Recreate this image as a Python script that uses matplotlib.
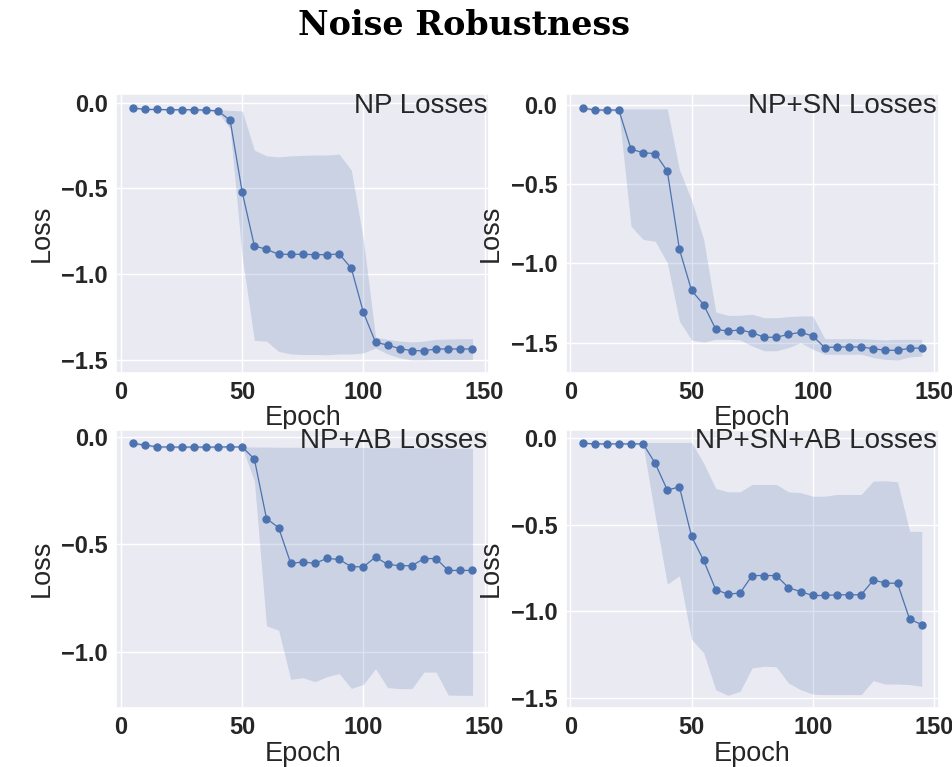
import matplotlib
matplotlib.use("Agg")
import matplotlib.pyplot as plt
from matplotlib.ticker import MultipleLocator
import seaborn as sns

epochs = [5, 10, 15, 20, 25, 30, 35, 40, 45, 50, 55, 60, 65, 70, 75,
          80, 85, 90, 95, 100, 105, 110, 115, 120, 125, 130, 135, 140, 145]

# NP losses
np_mean = [-0.031, -0.039, -0.039, -0.041, -0.041, -0.041, -0.043, -0.048, -0.103, -0.523,
           -0.835, -0.855, -0.884, -0.884, -0.884, -0.886, -0.886, -0.882, -0.965, -1.223,
           -1.397, -1.413, -1.434, -1.446, -1.446, -1.436, -1.436, -1.436, -1.436]
np_hi = [-0.025, -0.033, -0.033, -0.035, -0.035, -0.035, -0.037, -0.040, -0.045, -0.048,
         -0.277, -0.310, -0.316, -0.310, -0.307, -0.305, -0.305, -0.300, -0.393, -0.800,
         -1.366, -1.380, -1.390, -1.395, -1.390, -1.380, -1.378, -1.376, -1.376]
np_lo = [-0.037, -0.045, -0.045, -0.047, -0.047, -0.047, -0.049, -0.056, -0.151, -0.900,
         -1.386, -1.390, -1.450, -1.465, -1.468, -1.468, -1.470, -1.465, -1.465, -1.459,
         -1.430, -1.465, -1.488, -1.500, -1.500, -1.498, -1.498, -1.498, -1.498]

# NP+SN losses
sn_mean = [-0.021, -0.034, -0.034, -0.034, -0.279, -0.304, -0.308, -0.419, -0.912, -1.170,
           -1.260, -1.415, -1.426, -1.419, -1.436, -1.465, -1.465, -1.447, -1.434, -1.457,
           -1.530, -1.526, -1.526, -1.526, -1.537, -1.547, -1.547, -1.535, -1.532]
sn_hi = [-0.015, -0.028, -0.028, -0.027, -0.027, -0.027, -0.027, -0.027, -0.410, -0.600,
         -0.850, -1.306, -1.327, -1.327, -1.320, -1.342, -1.342, -1.335, -1.331, -1.331,
         -1.474, -1.474, -1.474, -1.474, -1.478, -1.482, -1.478, -1.478, -1.478]
sn_lo = [-0.027, -0.040, -0.040, -0.041, -0.765, -0.849, -0.860, -0.996, -1.363, -1.482,
         -1.495, -1.478, -1.478, -1.482, -1.520, -1.550, -1.550, -1.530, -1.500, -1.540,
         -1.572, -1.572, -1.572, -1.572, -1.593, -1.604, -1.608, -1.589, -1.583]

# NP+AB losses
ab_mean = [-0.031, -0.039, -0.047, -0.048, -0.048, -0.048, -0.048, -0.048, -0.047, -0.048,
           -0.104, -0.381, -0.423, -0.589, -0.583, -0.589, -0.566, -0.571, -0.605, -0.605,
           -0.560, -0.594, -0.600, -0.600, -0.567, -0.567, -0.622, -0.622, -0.622]
ab_hi = [-0.026, -0.034, -0.042, -0.043, -0.043, -0.043, -0.043, -0.043, -0.042, -0.047,
         -0.048, -0.048, -0.049, -0.049, -0.049, -0.049, -0.050, -0.050, -0.050, -0.050,
         -0.051, -0.051, -0.051, -0.052, -0.052, -0.053, -0.053, -0.054, -0.054]
ab_lo = [-0.036, -0.044, -0.052, -0.053, -0.053, -0.053, -0.053, -0.053, -0.052, -0.049,
         -0.206, -0.880, -0.900, -1.129, -1.121, -1.140, -1.116, -1.102, -1.171, -1.152,
         -1.079, -1.167, -1.172, -1.172, -1.095, -1.095, -1.202, -1.203, -1.203]

# NP+SN+AB losses
all_mean = [-0.029, -0.033, -0.033, -0.033, -0.033, -0.033, -0.145, -0.300, -0.281, -0.567,
            -0.706, -0.875, -0.900, -0.894, -0.793, -0.793, -0.793, -0.863, -0.886, -0.908,
            -0.908, -0.904, -0.904, -0.904, -0.819, -0.836, -0.838, -1.045, -1.076]
all_hi = [-0.024, -0.028, -0.028, -0.028, -0.028, -0.025, -0.025, -0.025, -0.025, -0.025,
          -0.145, -0.290, -0.310, -0.310, -0.267, -0.267, -0.267, -0.310, -0.314, -0.335,
          -0.335, -0.325, -0.325, -0.325, -0.248, -0.246, -0.252, -0.538, -0.538]
all_lo = [-0.034, -0.038, -0.038, -0.038, -0.038, -0.038, -0.450, -0.842, -0.794, -1.161,
          -1.239, -1.452, -1.484, -1.461, -1.326, -1.316, -1.320, -1.413, -1.452, -1.477,
          -1.480, -1.480, -1.480, -1.480, -1.399, -1.419, -1.419, -1.422, -1.432]

titles = ["NP Losses", "NP+SN Losses", "NP+AB Losses", "NP+SN+AB Losses"]
means = [np_mean, sn_mean, ab_mean, all_mean]
lows = [np_lo, sn_lo, ab_lo, all_lo]
highs = [np_hi, sn_hi, ab_hi, all_hi]

sns.set_theme(style="darkgrid")
plt.rcParams['font.family'] = ['Liberation Sans', 'DejaVu Sans']
color = "#4C72B0"

fig, axes = plt.subplots(2, 2, figsize=(9.53, 7.67), dpi=100)
fig.subplots_adjust(left=0.122, right=0.985, top=0.877, bottom=0.077,
                    wspace=0.204, hspace=0.205)

for ax, title, m, lo, hi in zip(axes.flat, titles, means, lows, highs):
    ax.fill_between(epochs, lo, hi, color=color, alpha=0.2, linewidth=0)
    ax.plot(epochs, m, marker="o", color=color, markersize=5, linewidth=0.9)
    ax.set_xticks([0, 50, 100, 150])
    ax.yaxis.set_major_locator(MultipleLocator(0.5))
    ax.tick_params(labelsize=17, length=0, pad=6)
    for lbl in ax.get_xticklabels() + ax.get_yticklabels():
        lbl.set_fontweight("bold")
        lbl.set_color("#262626")
    ax.set_xlabel("Epoch", fontsize=19.5, color="#262626", labelpad=1)
    ax.set_ylabel("Loss", fontsize=19.5, color="#262626", labelpad=5)
    ax.text(0.995, 1.005, title, transform=ax.transAxes, ha="right", va="top",
            fontsize=20, color="#262626")

fig.suptitle("Noise Robustness", fontsize=24, fontweight="bold",
             family="DejaVu Serif", color="black", x=0.487, y=0.988)

fig.savefig("out.png", dpi=100)
